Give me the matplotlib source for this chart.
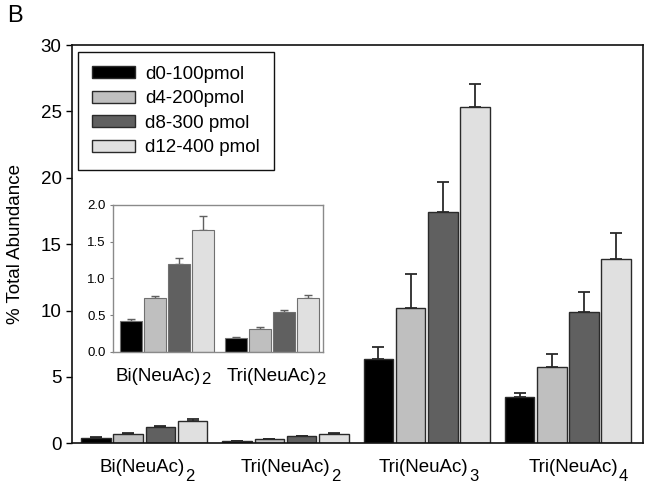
import matplotlib
matplotlib.use("Agg")
import matplotlib.pyplot as plt
import matplotlib.transforms as mtransforms
import numpy as np

plt.rcParams['font.family'] = ['Liberation Sans', 'DejaVu Sans']

cat_base = ['Bi(NeuAc)', 'Tri(NeuAc)', 'Tri(NeuAc)', 'Tri(NeuAc)']
cat_sub = ['2', '2', '3', '4']
series = ['d0-100pmol', 'd4-200pmol', 'd8-300 pmol', 'd12-400 pmol']
colors = ['#000000', '#bfbfbf', '#606060', '#e0e0e0']

# values per series across the 4 categories
d0 = [0.425, 0.19, 6.33, 3.47]
d4 = [0.73, 0.31, 10.17, 5.73]
d8 = [1.20, 0.54, 17.4, 9.87]
d12 = [1.655, 0.73, 25.3, 13.87]
d0_err = [0.02, 0.012, 0.9, 0.3]
d4_err = [0.03, 0.025, 2.6, 0.97]
d8_err = [0.08, 0.03, 2.3, 1.5]
d12_err = [0.19, 0.04, 1.8, 1.95]

values = [d0, d4, d8, d12]
errors = [d0_err, d4_err, d8_err, d12_err]

main_ticks = [0, 5, 10, 15, 20, 25, 30]
inset_ticks = [0.0, 0.5, 1.0, 1.5, 2.0]

W, H = 650, 488
fig = plt.figure(figsize=(6.5, 4.88), dpi=100)

def fx(px):
    return px / W

def fy(py):
    return 1 - py / H

ax = fig.add_axes([fx(72), fy(443.3), fx(642.7) - fx(72), fy(45) - fy(443.3)])

pitch = 0.228
width = 0.209
x = np.arange(len(cat_base))
for i in range(4):
    pos = x + (i - 1.5) * pitch
    ax.bar(pos, values[i], width, color=colors[i], edgecolor='#2a2a2a', linewidth=1.0,
           label=series[i], zorder=2)
    ax.errorbar(pos, values[i], yerr=[np.zeros(len(x)), errors[i]], fmt='none',
                ecolor='#2a2a2a', elinewidth=1.3, capsize=4.5, capthick=1.3, zorder=1)

ax.set_xlim(-0.512, 3.53)
ax.set_ylim(0, 30)
ax.set_yticks(main_ticks)
ax.set_yticklabels([str(t) for t in main_ticks], fontsize=13.5)
ax.set_xticks(x)
ax.set_xticklabels([])
ax.tick_params(axis='x', length=0)
ax.tick_params(axis='y', direction='out', length=4, width=1.0, pad=3.5)
for s in ax.spines.values():
    s.set_linewidth(1.2)
    s.set_color('#111111')
ax.set_ylabel('% Total Abundance', fontsize=13.5, labelpad=12)

leg = ax.legend(loc='upper left', bbox_to_anchor=(fx(78.3), fy(51.7)),
                bbox_transform=fig.transFigure, borderaxespad=0, fontsize=13.5,
                handlelength=2.3, handleheight=0.6, handletextpad=0.5,
                labelspacing=0.4, borderpad=0.75, fancybox=False, framealpha=1,
                edgecolor='#111111')
leg.get_frame().set_linewidth(1.0)

# inset
axi = fig.add_axes([fx(113.3), fy(352), fx(322.7) - fx(113.3), fy(204.7) - fy(352)])
xi = np.arange(2)
for i in range(4):
    pos = xi + (i - 1.5) * pitch
    axi.bar(pos, values[i][:2], width, color=colors[i], edgecolor='#707070', linewidth=0.8,
            zorder=2)
    axi.errorbar(pos, values[i][:2], yerr=[np.zeros(2), errors[i][:2]], fmt='none',
                 ecolor='#606060', elinewidth=1.0, capsize=2.8, capthick=1.0, zorder=1)
axi.set_xlim(-0.513, 1.481)
axi.set_ylim(0, 2.0)
axi.set_yticks(inset_ticks)
axi.set_yticklabels(['%.1f' % t for t in inset_ticks], fontsize=9.5)
axi.set_xticks(xi)
axi.set_xticklabels([])
axi.tick_params(axis='x', length=0)
axi.tick_params(axis='y', direction='out', length=2.5, width=0.8, color='#808080', pad=3)
for s in axi.spines.values():
    s.set_linewidth(1.0)
    s.set_color('#8a8a8a')

fig.text(fx(7), fy(5), 'B', fontsize=17, ha='left', va='top')

# category labels with large subscripts
renderer = fig.canvas.get_renderer()

def sub_label(a, xc, base, sub, base_drop, sub_drop, dx, fs=13.5, sfs=12):
    trans = mtransforms.blended_transform_factory(a.transData, a.transAxes)
    t1 = a.text(xc, 0, base, fontsize=fs, ha='left', va='baseline', transform=trans)
    t2 = a.text(xc, 0, sub, fontsize=sfs, ha='left', va='baseline', transform=trans)
    w1 = t1.get_window_extent(renderer).width + 0.5
    w2 = t2.get_window_extent(renderer).width
    left = -(w1 + w2) / 2 + dx
    t1.set_transform(mtransforms.offset_copy(trans, fig=fig, x=left, y=-base_drop, units='dots'))
    t2.set_transform(mtransforms.offset_copy(trans, fig=fig, x=left + w1, y=-sub_drop, units='dots'))

main_dx = [3, 5, 2, 10]
for k in range(4):
    sub_label(ax, x[k], cat_base[k], cat_sub[k], 29, 37.5, main_dx[k])

inset_dx = [-4, 4]
for k in range(2):
    sub_label(axi, xi[k], cat_base[k], cat_sub[k], 29, 32, inset_dx[k])

fig.savefig('out.png', dpi=100)
